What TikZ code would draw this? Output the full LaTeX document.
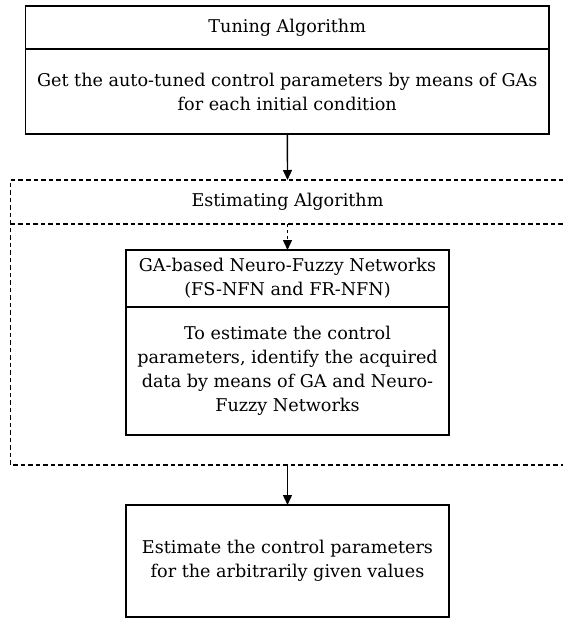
\documentclass[tikz,border=0pt]{standalone}
\usepackage{fontspec}
\setmainfont{DejaVu Serif}
\usetikzlibrary{arrows.meta,positioning}

\tikzset{
	every box/.style={draw, line width=1.7pt, outer sep=0pt, inner sep=0pt, align=center,
		font=\fontsize{17.6}{24}\selectfont},
	dashline/.style={line width=1.6pt, dash pattern=on 4.5pt off 3pt},
	flow/.style={->, line width=1.4pt}
}

\begin{document}
\begin{tikzpicture}[x=1pt, y=-1pt, >={Triangle[length=10pt, width=9pt]}]
	\useasboundingbox (0,0) rectangle (563,619);
	
	\node [every box, minimum width=523.5, minimum height=43] (tune-head) at (287.25,27.5) {Tuning Algorithm};
	\node [every box, minimum width=523.5, minimum height=85] (tune-body) at (287.25,91.5)
		{Get the auto-tuned control parameters by means of GAs\\for each initial condition};
	
	\draw [dashline] (563,180) -| (10.5,465) -- (563,465);
	\draw [dashline] (10.5,224) -- (563,224);
	\coordinate (est-top) at (287.5,180);
	\coordinate (est-mid) at (287.5,224);
	\coordinate (est-bot) at (287.5,465);
	\node [font=\fontsize{17.6}{24}\selectfont] (est-head) at (287.5,202) {Estimating Algorithm};
	
	\node [every box, minimum width=323, minimum height=57] (nfn-head) at (287.5,278.5)
		{GA-based Neuro-Fuzzy Networks\\(FS-NFN and FR-NFN)};
	\node [every box, minimum width=323, minimum height=128] (nfn-body) at (287.5,371)
		{To estimate the control\\parameters, identify the acquired\\data by means of GA and Neuro-\\Fuzzy Networks};
	
	\node [every box, minimum width=323, minimum height=112] (result) at (287.5,561)
		{Estimate the control parameters\\for the arbitrarily given values};
	
	\draw [flow] (tune-body) -- (est-top);
	\draw [flow, dashed] (est-mid) -- (nfn-head);
	\draw [flow] (est-bot) -- (result);
\end{tikzpicture}
\end{document}
